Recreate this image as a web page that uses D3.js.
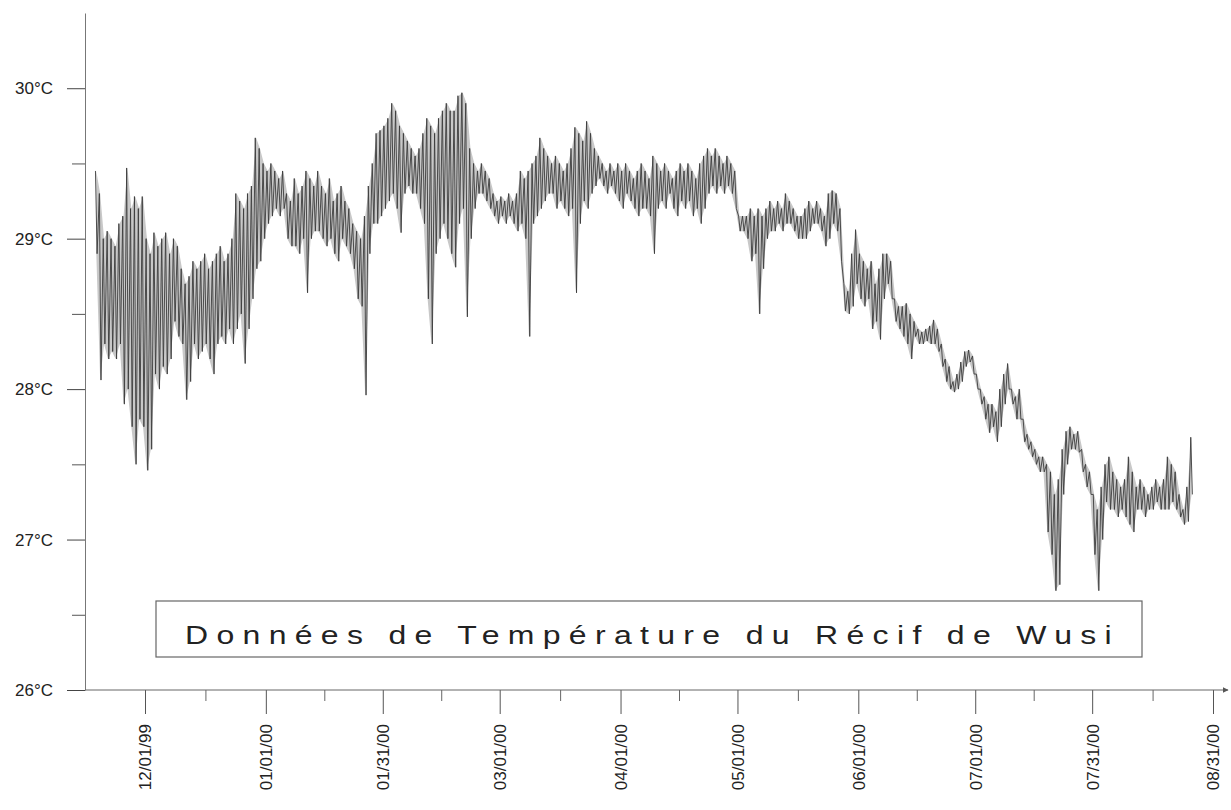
<!DOCTYPE html>
<html>
<head>
<meta charset="utf-8">
<script src="https://cdn.jsdelivr.net/npm/d3@7"></script>
<style>
  body { margin: 0; background: #fff; }
  text { font-family: "Liberation Sans", Arial, sans-serif; }
</style>
</head>
<body>
<div id="chart"></div>
<script>
// first day of the record, one max and one min per day after that
var startDate = "11/18/99";

var tempMax = [
  29.45, 29.3, 29.0, 29.05, 29.0, 28.95, 29.1, 29.15, 29.47, 29.2,
  29.28, 29.2, 29.28, 29.0, 28.9, 29.04, 28.95, 29.0, 29.04, 28.9,
  29.0, 28.95, 28.8, 28.7, 28.75, 28.85, 28.8, 28.85, 28.9, 28.8,
  28.85, 28.9, 28.95, 28.85, 28.9, 29.0, 29.3, 29.25, 29.2, 29.3,
  29.35, 29.67, 29.6, 29.5, 29.45, 29.5, 29.45, 29.4, 29.45, 29.3,
  29.25, 29.4, 29.3, 29.35, 29.45, 29.4, 29.35, 29.45, 29.35, 29.3,
  29.4, 29.25, 29.3, 29.35, 29.25, 29.2, 29.1, 29.05, 29.0, 29.15,
  29.35, 29.5, 29.7, 29.72, 29.75, 29.8, 29.9, 29.85, 29.75, 29.7,
  29.65, 29.6, 29.55, 29.6, 29.7, 29.8, 29.75, 29.7, 29.8, 29.85,
  29.9, 29.85, 29.85, 29.95, 29.97, 29.9, 29.6, 29.5, 29.45, 29.5,
  29.45, 29.4, 29.3, 29.25, 29.28, 29.25, 29.3, 29.25, 29.3, 29.45,
  29.4, 29.45, 29.5, 29.55, 29.67, 29.6, 29.55, 29.5, 29.55, 29.5,
  29.45, 29.5, 29.6, 29.74, 29.7, 29.65, 29.78, 29.7, 29.6, 29.55,
  29.5, 29.45, 29.5, 29.45, 29.5, 29.45, 29.5, 29.45, 29.4, 29.45,
  29.5, 29.45, 29.4, 29.55, 29.5, 29.45, 29.5, 29.45, 29.4, 29.45,
  29.5, 29.45, 29.5, 29.45, 29.4, 29.5, 29.55, 29.6, 29.55, 29.6,
  29.55, 29.5, 29.55, 29.5, 29.45, 29.15, 29.15, 29.15, 29.2, 29.15,
  29.2, 29.15, 29.2, 29.25, 29.2, 29.25, 29.2, 29.3, 29.25, 29.2,
  29.15, 29.15, 29.2, 29.25, 29.2, 29.25, 29.2, 29.15, 29.3, 29.32,
  29.3, 29.2, 28.7, 28.65, 28.9, 29.06, 28.9, 28.85, 28.8, 28.85,
  28.7, 28.8, 28.9, 28.9, 28.85, 28.6, 28.55, 28.55, 28.57, 28.5,
  28.45, 28.4, 28.38, 28.4, 28.42, 28.46, 28.4, 28.3, 28.2, 28.15,
  28.05, 28.1, 28.18, 28.25, 28.26, 28.22, 28.1, 28.0, 27.95, 27.9,
  27.9, 27.85, 28.0, 28.1, 28.17, 28.0, 27.95, 28.0, 27.8, 27.7,
  27.65, 27.6, 27.55, 27.55, 27.5, 27.45, 27.3, 27.4, 27.6, 27.72,
  27.75, 27.7, 27.72, 27.6, 27.5, 27.45, 27.3, 27.2, 27.35, 27.5,
  27.55, 27.45, 27.4, 27.35, 27.4, 27.55, 27.45, 27.35, 27.4, 27.35,
  27.3, 27.35, 27.4, 27.35, 27.4, 27.55, 27.5, 27.45, 27.3, 27.2,
  27.35, 27.68
];

var tempMin = [
  28.9, 28.06, 28.3, 28.2, 28.25, 28.2, 28.3, 27.9, 28.0, 27.75,
  27.5, 27.8, 27.75, 27.46, 27.6, 28.1, 28.0, 28.15, 28.1, 28.2,
  28.45, 28.35, 28.3, 27.93, 28.05, 28.3, 28.2, 28.25, 28.3, 28.2,
  28.1, 28.3, 28.35, 28.3, 28.4, 28.3, 28.4, 28.5, 28.17, 28.4,
  28.6, 28.8, 28.85, 29.0, 29.1, 29.15, 29.2, 29.15, 29.2, 29.0,
  28.95, 28.95, 28.9, 29.0, 28.64, 29.0, 29.05, 29.05, 29.0, 28.95,
  29.0, 28.9, 28.85, 29.0, 28.95, 28.9, 28.8, 28.6, 28.55, 27.96,
  28.9, 29.1, 29.1, 29.15, 29.2, 29.25, 29.3, 29.2, 29.04, 29.3,
  29.35, 29.3, 29.3, 29.2, 29.1, 28.6, 28.3, 28.9, 29.0, 29.1,
  29.0, 28.9, 28.81, 29.1, 29.2, 28.48, 29.0, 29.2, 29.3, 29.3,
  29.25, 29.2, 29.15, 29.1, 29.15, 29.1, 29.15, 29.1, 29.05, 29.1,
  29.0, 28.35, 29.1, 29.15, 29.2, 29.25, 29.3, 29.3, 29.2, 29.25,
  29.2, 29.15, 29.2, 28.64, 29.1, 29.25, 29.2, 29.3, 29.35, 29.4,
  29.35, 29.3, 29.35, 29.3, 29.25, 29.2, 29.3, 29.25, 29.2, 29.15,
  29.2, 29.2, 29.15, 28.9, 29.2, 29.25, 29.2, 29.3, 29.2, 29.15,
  29.25, 29.2, 29.25, 29.15, 29.2, 29.1, 29.2, 29.3, 29.35, 29.3,
  29.35, 29.3, 29.35, 29.3, 29.2, 29.05, 29.05, 29.0, 28.85, 28.9,
  28.5, 28.8, 29.0, 29.05, 29.05, 29.1, 29.05, 29.1, 29.1, 29.05,
  29.0, 29.0, 29.0, 29.05, 29.1, 29.1, 29.05, 28.95, 29.0, 29.1,
  29.05, 28.85, 28.52, 28.5, 28.55, 28.7, 28.6, 28.55, 28.6, 28.4,
  28.45, 28.33, 28.6, 28.7, 28.6, 28.45, 28.4, 28.35, 28.3, 28.2,
  28.35, 28.3, 28.3, 28.32, 28.3, 28.3, 28.25, 28.15, 28.05, 28.0,
  27.98, 28.0, 28.05, 28.15, 28.18, 28.1, 28.0, 27.9, 27.8, 27.71,
  27.75, 27.65, 27.75, 27.9, 28.0, 27.9, 27.8, 27.8, 27.65, 27.6,
  27.55, 27.5, 27.45, 27.45, 27.05, 26.9, 26.66, 26.7, 27.3, 27.5,
  27.6, 27.6, 27.58, 27.45, 27.35, 27.3, 26.9, 26.66, 27.0, 27.25,
  27.2, 27.2, 27.15, 27.2, 27.15, 27.1, 27.05, 27.2, 27.2, 27.15,
  27.2, 27.2, 27.25, 27.2, 27.2, 27.2, 27.25, 27.2, 27.15, 27.1,
  27.12, 27.3
];

var tickDates = ["12/01/99", "01/01/00", "01/31/00", "03/01/00", "04/01/00",
  "05/01/00", "06/01/00", "07/01/00", "07/31/00", "08/31/00"];
var yTicks = [26, 27, 28, 29, 30];
var yMinorTicks = [26.5, 27.5, 28.5, 29.5];
var chartTitle = "Données de Température du Récif de Wusi";

var svg_dx = 1231,
  svg_dy = 810,
  axisLeftX = 85,
  axisBottomY = 690,
  axisRightX = 1228;

var parseDate = d3.utcParse("%m/%d/%y"),
  formatDate = d3.utcFormat("%m/%d/%y");

var ticks = tickDates.map(parseDate);
var minorTicks = d3.pairs(ticks).map(function(p) {
  return new Date((p[0].getTime() + p[1].getTime()) / 2);
});

var xScale = d3.scaleUtc()
  .domain([ticks[0], ticks[ticks.length - 1]])
  .range([145, 1213]);

var yScale = d3.scaleLinear()
  .domain([26, 30.5])
  .range([axisBottomY, 13]);

var svg = d3.select("#chart")
  .append("svg")
  .attr("width", svg_dx)
  .attr("height", svg_dy)
  .style("background", "#fff");

var t0 = parseDate(startDate);

// daily range as a light band
var days = tempMax.map(function(v, i) {
  return { date: d3.utcHour.offset(t0, i * 24 + 12), hi: v, lo: tempMin[i] };
});

var band = d3.area()
  .x(function(d) { return xScale(d.date); })
  .y0(function(d) { return yScale(d.lo); })
  .y1(function(d) { return yScale(d.hi); });

svg.append("path")
  .datum(days)
  .attr("fill", "#c8c8c8")
  .attr("d", band);

// daily max then min -> one zig-zag trace
var points = [];
tempMax.forEach(function(v, i) {
  points.push({ date: d3.utcHour.offset(t0, i * 24 + 7), temp: v });
  points.push({ date: d3.utcHour.offset(t0, i * 24 + 17), temp: tempMin[i] });
});

var line = d3.line()
  .x(function(d) { return xScale(d.date); })
  .y(function(d) { return yScale(d.temp); });

svg.append("path")
  .datum(points)
  .attr("fill", "none")
  .attr("stroke", "#3c3c3c")
  .attr("stroke-width", 0.9)
  .attr("d", line);

// y axis
var axis_y = d3.axisLeft(yScale)
  .tickValues(yTicks)
  .tickSize(18)
  .tickSizeOuter(0)
  .tickPadding(14)
  .tickFormat(function(d) { return d + "°C"; });

var gy = svg.append("g")
  .attr("id", "axis_y")
  .attr("transform", "translate(" + axisLeftX + ",0)")
  .call(axis_y);

gy.select(".domain").attr("stroke", "#777");
gy.selectAll(".tick line").attr("stroke", "#444");
gy.selectAll(".tick text")
  .attr("font-size", 17)
  .attr("font-family", "Liberation Sans, Arial, sans-serif")
  .attr("fill", "#222");

svg.append("g")
  .attr("transform", "translate(" + axisLeftX + ",0)")
  .call(d3.axisLeft(yScale).tickValues(yMinorTicks).tickSize(13).tickFormat(""))
  .call(function(g) { g.select(".domain").remove(); })
  .selectAll(".tick line").attr("stroke", "#555");

// x axis
var axis_x = d3.axisBottom(xScale)
  .tickValues(ticks)
  .tickSize(24)
  .tickFormat(formatDate);

var gx = svg.append("g")
  .attr("id", "axis_x")
  .attr("transform", "translate(0," + axisBottomY + ")")
  .call(axis_x);

gx.select(".domain").remove();
gx.selectAll(".tick line").attr("stroke", "#555");
gx.selectAll(".tick text")
  .attr("font-size", 17)
  .attr("font-family", "Liberation Sans, Arial, sans-serif")
  .attr("fill", "#222")
  .attr("text-anchor", "end")
  .attr("transform", "rotate(-90)")
  .attr("x", -34)
  .attr("y", 0)
  .attr("dy", ".35em");

svg.append("g")
  .attr("transform", "translate(0," + axisBottomY + ")")
  .call(d3.axisBottom(xScale).tickValues(minorTicks).tickSize(11).tickFormat(""))
  .call(function(g) { g.select(".domain").remove(); })
  .selectAll(".tick line").attr("stroke", "#666");

svg.append("defs")
  .append("marker")
  .attr("id", "arrow")
  .attr("viewBox", "0 0 10 10")
  .attr("refX", 9)
  .attr("refY", 5)
  .attr("markerWidth", 6)
  .attr("markerHeight", 6)
  .attr("orient", "auto")
  .append("path")
  .attr("d", "M0,0L10,5L0,10z")
  .attr("fill", "#555");

svg.append("line")
  .attr("x1", axisLeftX)
  .attr("x2", axisRightX)
  .attr("y1", axisBottomY)
  .attr("y2", axisBottomY)
  .attr("stroke", "#666")
  .attr("marker-end", "url(#arrow)");

// title box
svg.append("rect")
  .attr("x", 156)
  .attr("y", 601)
  .attr("width", 986)
  .attr("height", 56)
  .attr("fill", "none")
  .attr("stroke", "#666")
  .attr("stroke-width", 1.2);

// glyphs in the original are stretched sideways
svg.append("text")
  .attr("transform", "translate(185,644) scale(1.28,1)")
  .attr("font-size", 25)
  .attr("fill", "#222")
  .attr("textLength", 724)
  .attr("lengthAdjust", "spacing")
  .text(chartTitle);
</script>
</body>
</html>
